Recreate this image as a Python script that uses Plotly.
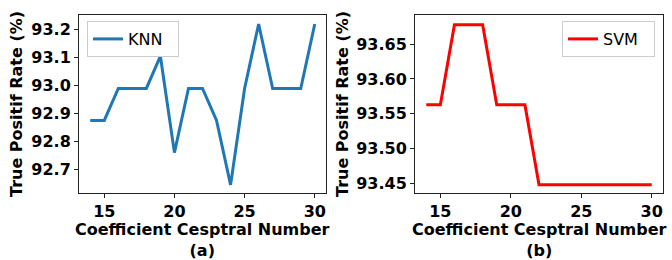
import plotly.graph_objects as go

coeff = [14, 15, 16, 17, 18, 19, 20, 21, 22, 23, 24, 25, 26, 27, 28, 29, 30]
knn = [92.874, 92.874, 92.988, 92.988, 92.988, 93.103, 92.759, 92.988, 92.988,
       92.874, 92.644, 92.988, 93.218, 92.988, 92.988, 92.988, 93.218]
svm = [93.563, 93.563, 93.678, 93.678, 93.678, 93.563, 93.563, 93.563, 93.448,
       93.448, 93.448, 93.448, 93.448, 93.448, 93.448, 93.448, 93.448]
x_ticks = [15, 20, 25, 30]
knn_ticks = [92.7, 92.8, 92.9, 93.0, 93.1, 93.2]
svm_ticks = [93.45, 93.50, 93.55, 93.60, 93.65]

W, H = 672, 260
def px(x):
    return x / W
def py(y):
    return 1 - y / H

FONT = "DejaVu Sans"
fig = go.Figure()
fig.add_trace(go.Scatter(x=coeff, y=knn, mode="lines", name="KNN&nbsp;&nbsp;",
                         line=dict(color="#1f77b4", width=3), xaxis="x", yaxis="y",
                         legend="legend"))
fig.add_trace(go.Scatter(x=coeff, y=svm, mode="lines", name="SVM&nbsp;&nbsp;",
                         line=dict(color="#ff0000", width=3), xaxis="x2", yaxis="y2",
                         legend="legend2"))

ydom = [py(192.7), py(15.3)]
axis_common = dict(showline=True, mirror=True, linecolor="#222", linewidth=1,
                   ticks="outside", ticklen=4, tickcolor="#222", showgrid=False,
                   zeroline=False,
                   tickfont=dict(family=FONT, size=16, color="black", weight="bold"))

fig.update_layout(
    width=W, height=H, margin=dict(l=0, r=0, t=0, b=0),
    paper_bgcolor="white", plot_bgcolor="white", showlegend=True,
    xaxis=dict(domain=[px(79), px(326)], range=[13.2, 30.8], tickvals=x_ticks,
               anchor="y", **axis_common),
    yaxis=dict(domain=ydom, range=[92.616, 93.249], tickvals=knn_ticks,
               tickformat=".1f", anchor="x", **axis_common),
    xaxis2=dict(domain=[px(415), px(663)], range=[13.2, 30.8], tickvals=x_ticks,
                anchor="y2", **axis_common),
    yaxis2=dict(domain=ydom, range=[93.4365, 93.6915], tickvals=svm_ticks,
                tickformat=".2f", anchor="x2", **axis_common),
    legend=dict(x=px(87), y=py(21), xanchor="left", yanchor="top",
                bgcolor="rgba(255,255,255,0.8)", bordercolor="#ccc", borderwidth=1,
                font=dict(family=FONT, size=16, color="black"), itemwidth=30),
    legend2=dict(x=px(655), y=py(21), xanchor="right", yanchor="top",
                 bgcolor="rgba(255,255,255,0.8)", bordercolor="#ccc", borderwidth=1,
                 font=dict(family=FONT, size=16, color="black"), itemwidth=30),
)

title_font = dict(family=FONT, size=16, color="black", weight="bold")
ann = []
for cx, lab, ycx in [(202.5, "(a)", 16), (539, "(b)", 342)]:
    ann.append(dict(text="Coefficient Cesptral Number<br>" + lab, x=px(cx), y=py(240),
                    xref="paper", yref="paper", showarrow=False, borderpad=0,
                    xanchor="center", yanchor="middle", font=title_font))
    ann.append(dict(text="True Positif Rate (%)", x=px(ycx), y=py(104), textangle=-90,
                    xref="paper", yref="paper", showarrow=False,
                    xanchor="center", yanchor="middle", font=title_font))
fig.update_layout(annotations=ann)

fig.write_html("out.html", config={"displayModeBar": False},
               post_script="document.body.style.margin='0';document.body.style.overflow='hidden';")
